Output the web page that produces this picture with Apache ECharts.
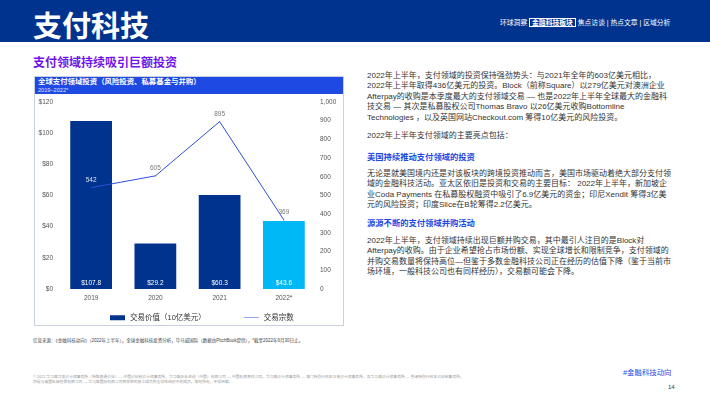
<!DOCTYPE html>
<html>
<head>
<meta charset="utf-8">
<script src="https://cdn.jsdelivr.net/npm/echarts@6/dist/echarts.min.js"></script>
<style>
  body { margin: 0; }
  .page {
    position: relative;
    width: 710px;
    height: 399px;
    overflow: hidden;
    background: #fff;
    font-family: "Liberation Sans", "Noto Sans CJK SC", sans-serif;
    color: #333;
  }
  .abs { position: absolute; white-space: nowrap; }
  .top-band { left: 0; top: 0; width: 710px; height: 42px; background: #00338D; }
  .page-title { left: 33px; top: 3px; font-size: 29px; font-weight: bold; color: #fff; }
  .nav { left: 500px; top: 18px; font-size: 6.8px; color: #fff; line-height: 10px; }
  .nav .cur { border: 1px solid #fff; padding: 0 2px; font-weight: bold; }
  .section-title { left: 33px; top: 53px; font-size: 12px; font-weight: bold; color: #7213EA; }
  .chart-box { left: 34px; top: 76px; width: 308px; height: 248px; border: 1px solid #C9D1E0; }
  .chart-head { left: 35px; top: 77px; width: 308px; height: 17px; background: #1E49E2; }
  .chart-head .t1 { position: absolute; left: 3px; top: 1px; font-size: 7.4px; line-height: 8px; font-weight: bold; color: #fff; }
  .chart-head .t2 { position: absolute; left: 3px; top: 9.5px; font-size: 5.6px; line-height: 6px; color: #dfe6ff; }
  #chart { position: absolute; left: 35px; top: 95px; width: 308px; height: 230px; }
  .source { left: 33px; top: 337px; font-size: 4.5px; color: #444; }
  .legal { left: 33px; top: 375px; font-size: 3.8px; color: #999; line-height: 5px; }
  .text { left: 367px; font-size: 8px; line-height: 10.4px; color: #333; }
  .subhead { left: 367px; font-size: 8.3px; font-weight: bold; color: #1E49E2; }
  .tag { left: 623px; top: 366px; font-size: 7.4px; color: #1E49E2; }
  .pageno { left: 668px; top: 384px; font-size: 6px; color: #333; }
</style>
</head>
<body>
<div class="page">
  <div class="abs top-band"></div>
  <div class="abs page-title">支付科技</div>
  <div class="abs nav">环球洞察 <span class="cur">金融科技板块</span> 焦点访谈 | 热点文章 | 区域分析</div>

  <div class="abs section-title">支付领域持续吸引巨额投资</div>

  <div class="abs chart-box"></div>
  <div class="abs chart-head">
    <span class="t1">全球支付领域投资（风险投资、私募基金与并购）</span>
    <span class="t2">2019–2022*</span>
  </div>
  <div id="chart"></div>

  <div class="abs source">信息来源：《金融科技动向》（2022年上半年），全球金融科技投资分析，毕马威国际（数据由PitchBook提供），*截至2022年6月30日止。</div>
  <div class="abs legal">© 2022 毕马威华振会计师事务所（特殊普通合伙）— 中国合伙制会计师事务所，毕马威企业咨询（中国）有限公司 — 中国有限责任公司，毕马威会计师事务所 — 澳门特别行政区注册会计师事务所，及毕马威会计师事务所 — 香港特别行政区合伙制事务所，<br>均是与英国私营担保有限公司 — 毕马威国际有限公司相关联的独立成员所全球性组织中的成员。版权所有，不得转载。</div>

  <div class="abs text" style="top:71px">2022年上半年，支付领域的投资保持强劲势头：与2021年全年的603亿美元相比，<br>2022年上半年取得436亿美元的投资。Block（前称Square）以279亿美元对澳洲企业<br>Afterpay的收购是本季度最大的支付领域交易 — 也是2022年上半年全球最大的金融科<br>技交易 — 其次是私募股权公司Thomas Bravo 以26亿美元收购Bottomline<br>Technologies ，以及英国网站Checkout.com 筹得10亿美元的风险投资。</div>
  <div class="abs text" style="top:131px">2022年上半年支付领域的主要亮点包括：</div>
  <div class="abs subhead" style="top:150px">美国持续推动支付领域的投资</div>
  <div class="abs text" style="top:169px">无论是就美国境内还是对该板块的跨境投资推动而言，美国市场驱动着绝大部分支付领<br>域的金融科技活动。亚太区依旧是投资和交易的主要目标： 2022年上半年，新加坡企<br>业Coda Payments 在私募股权融资中吸引了6.9亿美元的资金；印尼Xendit 筹得3亿美<br>元的风险投资；印度Slice在B轮筹得2.2亿美元。</div>
  <div class="abs subhead" style="top:216px">源源不断的支付领域并购活动</div>
  <div class="abs text" style="top:236px">2022年上半年，支付领域持续出现巨额并购交易，其中最引人注目的是Block对<br>Afterpay的收购。由于企业希望抢占市场份额、实现全球增长和限制竞争，支付领域的<br>并购交易数量将保持高位—但鉴于多数金融科技公司正在经历的估值下降（鉴于当前市<br>场环境，一般科技公司也有同样经历），交易额可能会下降。</div>

  <div class="abs tag">#金融科技动向</div>
  <div class="abs pageno">14</div>
</div>

<script>
// 年份与两组数据
const years = ['2019', '2020', '2021', '2022*']
const dealValue = [107.8, 29.2, 60.3, 43.6]   // 交易价值（10亿美元）
const dealCount = [542, 605, 895, 369]        // 交易宗数

const chartDom = echarts.init(document.getElementById('chart'))

const option = {
  animation: false,
  textStyle: { fontFamily: '"Liberation Sans", "Noto Sans CJK SC", sans-serif' },
  grid: { left: 24, right: 27, top: 7, bottom: 36 },
  legend: {
    top: 214,
    left: 70,
    itemGap: 38,
    itemWidth: 15,
    itemHeight: 5,
    textStyle: { fontSize: 7.5, color: '#333' },
    data: [
      { name: '交易价值（10亿美元）', icon: 'rect' },
      { name: '交易宗数', icon: 'path://M0,0H30V1H0Z' }
    ]
  },
  xAxis: {
    type: 'category',
    data: years,
    axisLine: { show: false },
    axisTick: { show: false },
    axisLabel: { fontSize: 6.5, color: '#555', margin: 6 }
  },
  yAxis: [
    {
      type: 'value',
      min: 0,
      max: 120,
      interval: 20,
      splitLine: { show: false },
      axisLabel: { fontSize: 6.5, color: '#555', margin: 6, formatter: v => '$' + v }
    },
    {
      type: 'value',
      min: 0,
      max: 1000,
      interval: 100,
      splitLine: { show: false },
      axisLabel: {
        fontSize: 6.5, color: '#555', margin: 4,
        formatter: v => v.toLocaleString('en-US')
      }
    }
  ],
  series: [
    {
      name: '交易价值（10亿美元）',
      type: 'bar',
      yAxisIndex: 0,
      barWidth: '65%',
      itemStyle: { color: '#00338D' },
      data: dealValue.map((v, i) => i === dealValue.length - 1
        ? { value: v, itemStyle: { color: '#00B8F5' } }
        : v),
      label: {
        show: true,
        position: 'insideBottom',
        distance: 3,
        fontSize: 6.5,
        color: '#fff',
        formatter: p => '$' + p.value.toFixed(1)
      }
    },
    {
      name: '交易宗数',
      type: 'line',
      yAxisIndex: 1,
      symbol: 'circle',
      symbolSize: 1,
      lineStyle: { color: '#2D4FD8', width: 1 },
      itemStyle: { color: '#2D4FD8' },
      data: dealCount.map((v, i) => i === 0
        ? { value: v, label: { color: '#DCE3F7' } }
        : v),
      label: {
        show: true,
        position: 'top',
        distance: 4,
        fontSize: 6.5,
        color: '#777'
      }
    }
  ]
}

chartDom.setOption(option)
</script>
</body>
</html>
